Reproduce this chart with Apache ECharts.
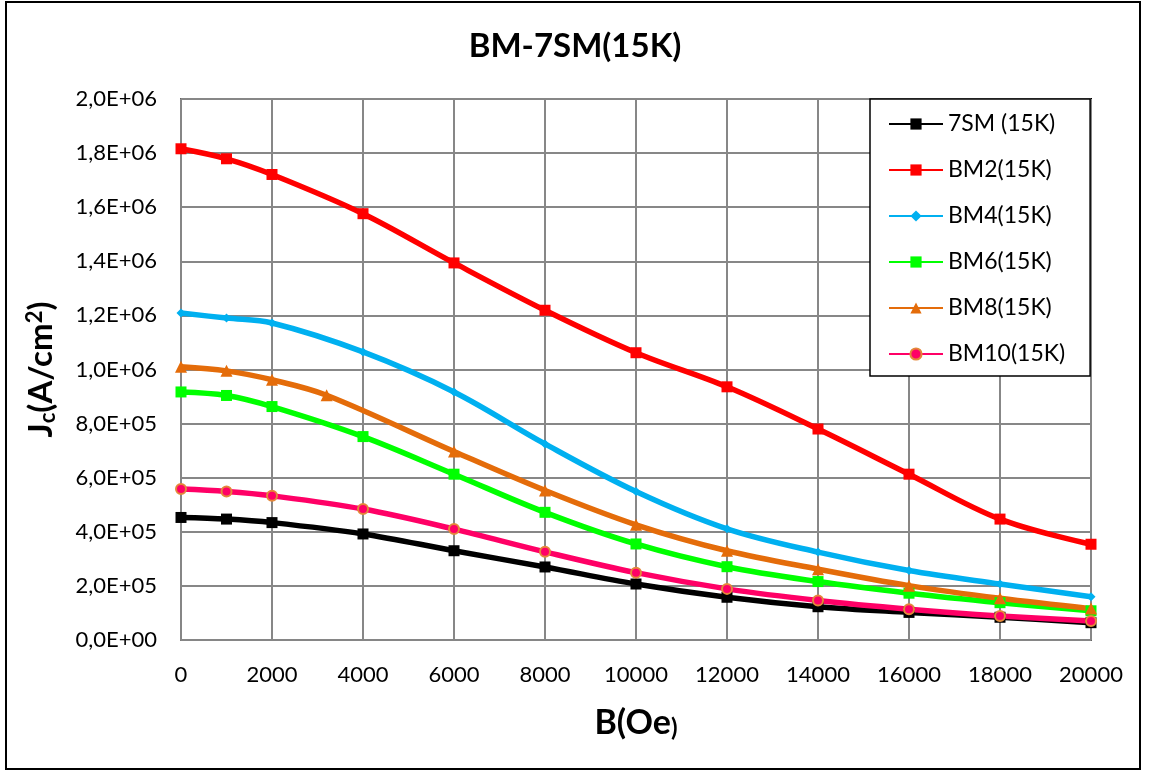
<!DOCTYPE html>
<html>
<head>
<meta charset="utf-8">
<script src="https://cdn.jsdelivr.net/npm/echarts@6/dist/echarts.min.js"></script>
<style>
  html, body { margin: 0; padding: 0; background: #fff; }
  #chart { width: 1150px; height: 773px; }
</style>
</head>
<body>
<div id="chart"></div>
<script>
// Magnetic field B (Oe)
const bField = [0, 1000, 2000, 4000, 6000, 8000, 10000, 12000, 14000, 16000, 18000, 20000];
const bFieldBM8 = [0, 1000, 2000, 3200, 6000, 8000, 10000, 12000, 14000, 16000, 18000, 20000];

// Critical current density Jc (A/cm^2) at 15 K
const jc7SM  = [4.53e5, 4.47e5, 4.34e5, 3.92e5, 3.30e5, 2.70e5, 2.07e5, 1.58e5, 1.23e5, 1.02e5, 0.84e5, 0.64e5];
const jcBM2  = [1.816e6, 1.779e6, 1.721e6, 1.576e6, 1.394e6, 1.219e6, 1.062e6, 0.936e6, 0.780e6, 0.613e6, 0.447e6, 0.354e6];
const jcBM4  = [1.209e6, 1.190e6, 1.172e6, 1.065e6, 0.917e6, 0.725e6, 0.549e6, 0.411e6, 0.325e6, 0.257e6, 0.207e6, 0.160e6];
const jcBM6  = [0.917e6, 0.904e6, 0.863e6, 0.752e6, 0.613e6, 0.472e6, 0.355e6, 0.271e6, 0.216e6, 0.173e6, 0.138e6, 0.108e6];
const jcBM8  = [1.010e6, 0.995e6, 0.962e6, 0.905e6, 0.697e6, 0.553e6, 0.426e6, 0.330e6, 0.262e6, 0.201e6, 0.154e6, 0.116e6];
const jcBM10 = [0.558e6, 0.549e6, 0.533e6, 0.484e6, 0.410e6, 0.326e6, 0.249e6, 0.189e6, 0.146e6, 0.114e6, 0.089e6, 0.070e6];

const seriesNames = ['7SM (15K)', 'BM2(15K)', 'BM4(15K)', 'BM6(15K)', 'BM8(15K)', 'BM10(15K)'];

const font = 'Lato, "Open Sans", "Liberation Sans", sans-serif';

function pairs(xs, ys) { return xs.map((x, i) => [x, ys[i]]); }

// Scientific label with comma decimal, e.g. 1,2E+06
function sciLabel(v) {
  if (v === 0) return '0,0E+00';
  const e = Math.floor(Math.log10(Math.abs(v)) + 1e-9);
  const m = v / Math.pow(10, e);
  return m.toFixed(1).replace('.', ',') + 'E+' + String(e).padStart(2, '0');
}

function lineSeries(name, data, color, symbol, size, extra) {
  return Object.assign({
    name: name,
    type: 'line',
    data: data,
    smooth: 0.35,
    symbol: symbol,
    symbolSize: size,
    showSymbol: true,
    lineStyle: { color: color, width: 5.5 },
    itemStyle: { color: color },
    emphasis: { disabled: true },
    animation: false
  }, extra || {});
}

const chart = echarts.init(document.getElementById('chart'), null, { renderer: 'canvas' });

chart.setOption({
  backgroundColor: '#ffffff',
  animation: false,
  title: {
    text: 'BM-7SM(15K)',
    left: 'center',
    top: 25,
    textStyle: { fontFamily: font, fontSize: 33, fontWeight: 'bold', color: '#000' }
  },
  grid: {
    left: 181, top: 99, width: 910, height: 541,
    show: true, borderColor: '#000', borderWidth: 2, backgroundColor: 'transparent'
  },
  legend: {
    orient: 'vertical',
    left: 870, top: 99,
    padding: [11, 25, 8, 18],
    itemGap: 18,
    itemWidth: 54,
    itemHeight: 14,
    backgroundColor: '#fff',
    borderColor: '#000',
    borderWidth: 1.5,
    borderRadius: 0,
    textStyle: { fontFamily: font, fontSize: 23, lineHeight: 28, color: '#000' },
    data: seriesNames
  },
  xAxis: {
    type: 'value',
    min: 0, max: 20000, interval: 2000,
    name: '{a|B(Oe}{b|)}',
    nameLocation: 'middle',
    nameGap: 66,
    nameTextStyle: {
      rich: {
        a: { fontFamily: font, fontSize: 34, fontWeight: 'bold', color: '#000' },
        b: { fontFamily: font, fontSize: 24, fontWeight: 'bold', color: '#000', verticalAlign: 'bottom', padding: [8, 0, 0, 0] }
      }
    },
    axisLine: { show: true, onZero: false, lineStyle: { color: '#868686', width: 2 } },
    axisTick: { show: false },
    axisLabel: { fontFamily: font, fontSize: 22, color: '#000', margin: 24, formatter: v => String(v) },
    splitLine: { show: true, lineStyle: { color: '#878787', width: 2 } }
  },
  yAxis: {
    type: 'value',
    min: 0, max: 2000000, interval: 200000,
    name: '{a|J}{sub|c}{a|(A/cm}{sup|2}{a|)}',
    nameLocation: 'middle',
    nameGap: 122,
    nameRotate: 90,
    nameTextStyle: {
      rich: {
        a: { fontFamily: font, fontSize: 33, fontWeight: 'bold', color: '#000' },
        sub: { fontFamily: font, fontSize: 22, fontWeight: 'bold', color: '#000', verticalAlign: 'bottom', padding: [13, 0, 0, 0] },
        sup: { fontFamily: font, fontSize: 22, fontWeight: 'bold', color: '#000', verticalAlign: 'top', padding: [0, 0, 13, 0] }
      }
    },
    axisLine: { show: true, lineStyle: { color: '#868686', width: 2 } },
    axisTick: { show: false },
    axisLabel: { fontFamily: font, fontSize: 22, color: '#000', margin: 24, formatter: sciLabel },
    splitLine: { show: true, lineStyle: { color: '#878787', width: 2 } }
  },
  graphic: [{
    type: 'rect',
    shape: { x: 6, y: 2, width: 1134, height: 767 },
    style: { fill: 'none', stroke: '#000', lineWidth: 2 },
    silent: true, z: 100
  }],
  series: [
    lineSeries(seriesNames[0], pairs(bField, jc7SM), '#000000', 'rect', 11),
    lineSeries(seriesNames[1], pairs(bField, jcBM2), '#FF0000', 'rect', 11),
    lineSeries(seriesNames[2], pairs(bField, jcBM4), '#00B0F0', 'diamond', 9),
    lineSeries(seriesNames[3], pairs(bField, jcBM6), '#00FF00', 'rect', 11),
    lineSeries(seriesNames[4], pairs(bFieldBM8, jcBM8), '#E46C0A', 'triangle', 12),
    lineSeries(seriesNames[5], pairs(bField, jcBM10), '#FF0066', 'circle', 10, {
      itemStyle: { color: '#FF0066', borderColor: '#E4873A', borderWidth: 2 }
    })
  ]
});
</script>
</body>
</html>
